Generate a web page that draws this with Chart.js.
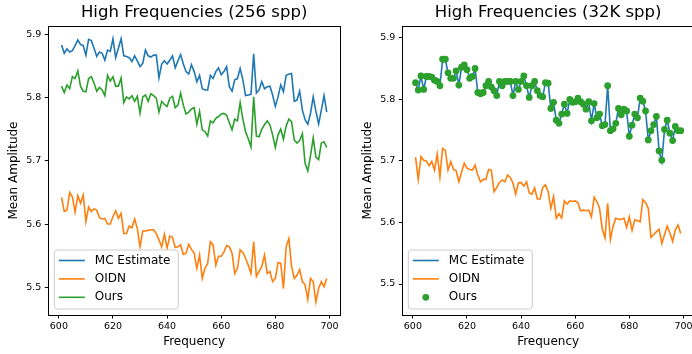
<!DOCTYPE html>
<html>
<head>
<meta charset="utf-8">
<script src="https://cdn.jsdelivr.net/npm/chart.js@4.4.0/dist/chart.umd.min.js"></script>
<style>
  html, body { margin: 0; padding: 0; background: #fff; overflow: hidden; }
  #wrap { position: relative; width: 692px; height: 354px; overflow: hidden; }
  canvas { position: absolute; top: 0; }
  #chartLeft { left: 0; }
  #chartRight { left: 354px; }
</style>
</head>
<body>
<div id="wrap">
  <canvas id="chartLeft" width="346" height="354"></canvas>
  <canvas id="chartRight" width="346" height="354"></canvas>
</div>
<script>
/* ---------- dados ---------- */
const freqStart = 601;
const freqEnd = 699;
const xTicks = [600, 620, 640, 660, 680, 700];
const yTicks = [5.5, 5.6, 5.7, 5.8, 5.9];
const seriesNames = ["MC Estimate", "OIDN", "Ours"];

// 256 spp
const mc256 = [
  5.883, 5.870, 5.877, 5.872, 5.874, 5.882, 5.891, 5.884, 5.882, 5.867,
  5.892, 5.890, 5.878, 5.865, 5.872, 5.870, 5.859, 5.875, 5.873, 5.893,
  5.863, 5.878, 5.893, 5.866, 5.865, 5.863, 5.857, 5.866, 5.858, 5.849,
  5.854, 5.875, 5.866, 5.864, 5.867, 5.867, 5.831, 5.853, 5.858, 5.853,
  5.859, 5.866, 5.847, 5.858, 5.868, 5.853, 5.841, 5.837, 5.852, 5.841,
  5.825, 5.835, 5.814, 5.812, 5.812, 5.835, 5.830, 5.841, 5.847, 5.836,
  5.841, 5.849, 5.817, 5.810, 5.828, 5.830, 5.846, 5.828, 5.803, 5.804,
  5.805, 5.869, 5.807, 5.812, 5.825, 5.814, 5.817, 5.818, 5.804, 5.786,
  5.801, 5.820, 5.809, 5.835, 5.837, 5.838, 5.794, 5.796, 5.810, 5.780,
  5.765, 5.758, 5.775, 5.801, 5.778, 5.758, 5.780, 5.803, 5.777
];
const oidn256 = [
  5.642, 5.620, 5.622, 5.650, 5.643, 5.619, 5.645, 5.633, 5.646, 5.604,
  5.627, 5.620, 5.624, 5.622, 5.610, 5.608, 5.609, 5.600, 5.600, 5.612,
  5.621, 5.609, 5.617, 5.585, 5.585, 5.597, 5.594, 5.608, 5.593, 5.564,
  5.589, 5.589, 5.590, 5.591, 5.591, 5.585, 5.575, 5.564, 5.584, 5.562,
  5.581, 5.579, 5.563, 5.564, 5.567, 5.552, 5.554, 5.568, 5.560, 5.554,
  5.530, 5.551, 5.514, 5.530, 5.538, 5.572, 5.567, 5.535, 5.549, 5.549,
  5.556, 5.566, 5.564, 5.554, 5.522, 5.530, 5.559, 5.555, 5.546, 5.535,
  5.522, 5.572, 5.517, 5.525, 5.533, 5.551, 5.522, 5.525, 5.509, 5.514,
  5.539, 5.538, 5.498, 5.564, 5.577, 5.533, 5.514, 5.519, 5.528, 5.509,
  5.504, 5.481, 5.514, 5.509, 5.477, 5.498, 5.509, 5.501, 5.514
];
const ours256 = [
  5.818, 5.808, 5.820, 5.814, 5.833, 5.830, 5.842, 5.818, 5.810, 5.809,
  5.830, 5.833, 5.823, 5.810, 5.816, 5.812, 5.803, 5.835, 5.826, 5.833,
  5.818, 5.818, 5.831, 5.792, 5.801, 5.798, 5.803, 5.794, 5.802, 5.775,
  5.801, 5.804, 5.794, 5.806, 5.803, 5.799, 5.777, 5.794, 5.789, 5.786,
  5.799, 5.802, 5.784, 5.788, 5.807, 5.788, 5.774, 5.777, 5.782, 5.784,
  5.758, 5.778, 5.749, 5.746, 5.739, 5.763, 5.760, 5.767, 5.770, 5.774,
  5.775, 5.772, 5.760, 5.749, 5.766, 5.763, 5.792, 5.766, 5.746, 5.735,
  5.722, 5.801, 5.739, 5.738, 5.750, 5.757, 5.763, 5.757, 5.741, 5.721,
  5.741, 5.750, 5.734, 5.755, 5.766, 5.762, 5.733, 5.728, 5.732, 5.743,
  5.696, 5.684, 5.708, 5.736, 5.706, 5.702, 5.728, 5.730, 5.721
];

// 32K spp
const mc32k = [
  5.827, 5.815, 5.838, 5.816, 5.837, 5.837, 5.836, 5.831, 5.829, 5.822,
  5.865, 5.865, 5.843, 5.834, 5.834, 5.846, 5.823, 5.852, 5.856, 5.848,
  5.834, 5.837, 5.850, 5.811, 5.809, 5.811, 5.822, 5.829, 5.820, 5.814,
  5.806, 5.829, 5.822, 5.829, 5.829, 5.829, 5.806, 5.829, 5.816, 5.829,
  5.838, 5.822, 5.803, 5.822, 5.829, 5.814, 5.806, 5.804, 5.827, 5.826,
  5.785, 5.795, 5.766, 5.761, 5.776, 5.792, 5.777, 5.800, 5.795, 5.796,
  5.802, 5.796, 5.792, 5.784, 5.796, 5.765, 5.793, 5.770, 5.776, 5.757,
  5.759, 5.822, 5.749, 5.752, 5.761, 5.785, 5.775, 5.784, 5.781, 5.740,
  5.758, 5.776, 5.770, 5.802, 5.797, 5.781, 5.734, 5.749, 5.759, 5.772,
  5.716, 5.699, 5.751, 5.766, 5.745, 5.733, 5.756, 5.749, 5.749
];
const oidn32k = [
  5.706, 5.670, 5.707, 5.701, 5.700, 5.692, 5.699, 5.685, 5.711, 5.674,
  5.720, 5.717, 5.685, 5.699, 5.686, 5.684, 5.666, 5.682, 5.696, 5.688,
  5.686, 5.685, 5.693, 5.677, 5.666, 5.670, 5.670, 5.686, 5.685, 5.650,
  5.657, 5.665, 5.669, 5.666, 5.677, 5.673, 5.664, 5.646, 5.664, 5.665,
  5.659, 5.666, 5.648, 5.646, 5.656, 5.638, 5.638, 5.657, 5.661, 5.650,
  5.623, 5.642, 5.607, 5.614, 5.607, 5.635, 5.630, 5.635, 5.634, 5.635,
  5.632, 5.619, 5.620, 5.619, 5.620, 5.609, 5.641, 5.634, 5.623, 5.589,
  5.575, 5.631, 5.572, 5.594, 5.607, 5.605, 5.605, 5.607, 5.592, 5.609,
  5.587, 5.604, 5.603, 5.601, 5.637, 5.632, 5.623, 5.576, 5.580, 5.585,
  5.589, 5.566, 5.580, 5.594, 5.583, 5.569, 5.588, 5.596, 5.582
];
const ours32k = [
  5.827, 5.815, 5.838, 5.816, 5.837, 5.837, 5.836, 5.831, 5.829, 5.822,
  5.865, 5.865, 5.843, 5.834, 5.834, 5.846, 5.823, 5.852, 5.856, 5.848,
  5.834, 5.837, 5.850, 5.811, 5.809, 5.811, 5.822, 5.829, 5.820, 5.814,
  5.806, 5.829, 5.822, 5.829, 5.829, 5.829, 5.806, 5.829, 5.816, 5.829,
  5.838, 5.822, 5.803, 5.822, 5.829, 5.814, 5.806, 5.804, 5.827, 5.826,
  5.785, 5.795, 5.766, 5.761, 5.776, 5.792, 5.777, 5.800, 5.795, 5.796,
  5.802, 5.796, 5.792, 5.784, 5.796, 5.765, 5.793, 5.770, 5.776, 5.757,
  5.759, 5.822, 5.749, 5.752, 5.761, 5.785, 5.775, 5.784, 5.781, 5.740,
  5.758, 5.776, 5.770, 5.802, 5.797, 5.781, 5.734, 5.749, 5.759, 5.772,
  5.716, 5.701, 5.751, 5.766, 5.745, 5.733, 5.756, 5.749, 5.749
];

/* ---------- estilo ---------- */
const FONT = "'DejaVu Sans', sans-serif";
const BLUE = "#1f77b4";
const ORANGE = "#ff7f0e";
const GREEN = "#2ca02c";

const freqs = [];
for (let f = freqStart; f <= freqEnd; f++) freqs.push(f);

function toPoints(values) {
  return values.map((v, i) => ({ x: freqs[i], y: v }));
}

function lineSet(label, values, color, order) {
  return {
    label, data: toPoints(values), borderColor: color, backgroundColor: color,
    borderWidth: 1.6, pointRadius: 0, tension: 0, order
  };
}

// moldura (4 lados) + título centrado na área do gráfico
const framePlugin = {
  id: "frame",
  afterDraw(chart, args, opts) {
    const { ctx, chartArea: a } = chart;
    ctx.save();
    ctx.strokeStyle = "#000";
    ctx.lineWidth = 1;
    ctx.strokeRect(Math.round(a.left) + 0.5, Math.round(a.top) + 0.5,
      Math.round(a.right - a.left), Math.round(a.bottom - a.top));
    ctx.fillStyle = "#000";
    ctx.font = "16.5px " + FONT;
    ctx.textAlign = "center";
    ctx.textBaseline = "middle";
    ctx.fillText(opts.text, (a.left + a.right) / 2, 13);
    ctx.restore();
  }
};

// legenda dentro da área do gráfico (canto inferior esquerdo)
const insideLegend = {
  id: "insideLegend",
  afterDatasetsDraw(chart) {
    const { ctx, chartArea: a } = chart;
    const sets = chart.data.datasets;
    const x0 = a.left + 5.5, w = 124, h = 59, y0 = a.bottom - 6.5 - h;
    ctx.save();
    ctx.beginPath();
    ctx.roundRect(x0 + 0.5, y0 + 0.5, w, h, 3);
    ctx.fillStyle = "rgba(255,255,255,0.8)";
    ctx.fill();
    ctx.strokeStyle = "#cccccc";
    ctx.lineWidth = 1;
    ctx.stroke();
    sets.forEach((ds, i) => {
      const cy = y0 + 11 + i * 18.4;
      if (ds.showLine === false) {
        ctx.beginPath();
        ctx.arc(x0 + 18, cy, 3.4, 0, Math.PI * 2);
        ctx.fillStyle = ds.pointBackgroundColor;
        ctx.fill();
      } else {
        ctx.beginPath();
        ctx.moveTo(x0 + 5, cy);
        ctx.lineTo(x0 + 31, cy);
        ctx.strokeStyle = ds.borderColor;
        ctx.lineWidth = 1.6;
        ctx.stroke();
      }
      ctx.fillStyle = "#000";
      ctx.font = "12px " + FONT;
      ctx.textBaseline = "middle";
      ctx.textAlign = "left";
      ctx.fillText(ds.label, x0 + 41, cy);
    });
    ctx.restore();
  }
};

function makeChart(id, title, datasets, yMin, yMax) {
  return new Chart(document.getElementById(id), {
    type: "line",
    data: { datasets },
    options: {
      responsive: false,
      animation: false,
      devicePixelRatio: 1,
      layout: { padding: { left: 0, right: 6, top: 26, bottom: 0 } },
      plugins: {
        legend: { display: false },
        tooltip: { enabled: false },
        title: { display: false },
        frame: { text: title }
      },
      scales: {
        x: {
          type: "linear", min: 596.1, max: 703.9,
          afterBuildTicks: (ax) => { ax.ticks = xTicks.map((v) => ({ value: v })); },
          afterFit: (ax) => { ax.height = 39; },
          border: { display: false },
          grid: { drawOnChartArea: false, drawTicks: true, tickLength: 3.5, tickColor: "#000", tickWidth: 1 },
          ticks: {
            autoSkip: false, maxRotation: 0, padding: 2, color: "#000",
            font: { family: FONT, size: 9.5 },
            callback: (v) => String(v)
          },
          title: {
            display: true, text: "Frequency", color: "#000",
            font: { family: FONT, size: 12 }, padding: { top: 0, bottom: 5 }
          }
        },
        y: {
          min: yMin, max: yMax,
          afterBuildTicks: (ax) => { ax.ticks = yTicks.map((v) => ({ value: v })); },
          afterFit: (ax) => { ax.width = 48.3; },
          border: { display: false },
          grid: { drawOnChartArea: false, drawTicks: true, tickLength: 3.5, tickColor: "#000", tickWidth: 1 },
          ticks: {
            autoSkip: false, padding: 3.5, color: "#000",
            font: { family: FONT, size: 9.5 },
            callback: (v) => Number(v).toFixed(1)
          },
          title: {
            display: true, text: "Mean Amplitude", color: "#000",
            font: { family: FONT, size: 12 }, padding: { top: 6.5, bottom: 0 }
          }
        }
      }
    },
    plugins: [framePlugin, insideLegend]
  });
}

makeChart("chartLeft", "High Frequencies (256 spp)", [
  lineSet(seriesNames[0], mc256, BLUE, 2),
  lineSet(seriesNames[1], oidn256, ORANGE, 1),
  lineSet(seriesNames[2], ours256, GREEN, 0)
], 5.4562, 5.9131);

makeChart("chartRight", "High Frequencies (32K spp)", [
  lineSet(seriesNames[0], mc32k, BLUE, 2),
  lineSet(seriesNames[1], oidn32k, ORANGE, 1),
  {
    label: seriesNames[2], data: toPoints(ours32k), showLine: false,
    pointRadius: 3.4, pointBorderWidth: 0, pointBackgroundColor: GREEN,
    borderColor: GREEN, backgroundColor: GREEN, order: 0
  }
], 5.4497, 5.919);
</script>
</body>
</html>
